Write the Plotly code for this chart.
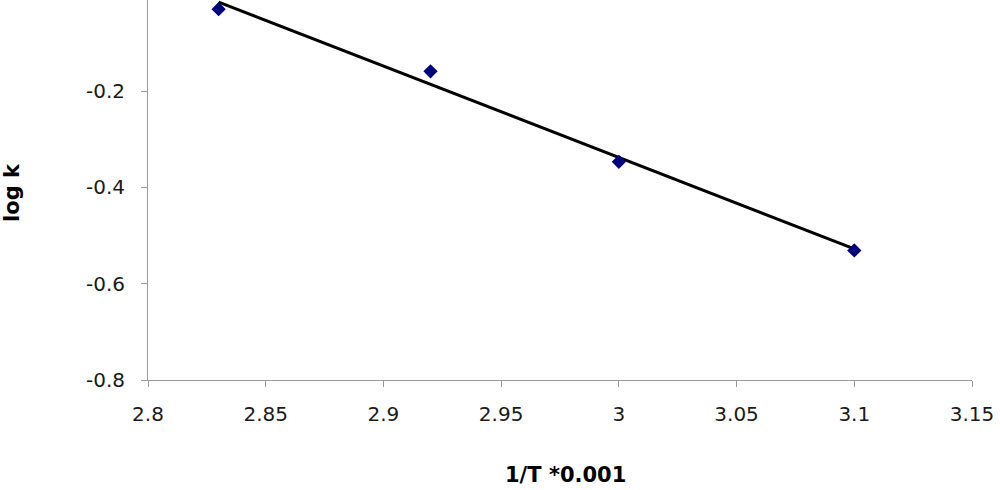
import numpy as np
import plotly.graph_objects as go

x_vals = [2.83, 2.92, 3.0, 3.1]
logk = [-0.030, -0.159, -0.347, -0.531]
x_ticks = [2.8, 2.85, 2.9, 2.95, 3.0, 3.05, 3.1, 3.15]
x_tick_text = ["2.8", "2.85", "2.9", "2.95", "3", "3.05", "3.1", "3.15"]
y_ticks = [-0.8, -0.6, -0.4, -0.2]
y_tick_text = ["-0.8", "-0.6", "-0.4", "-0.2"]

slope, intercept = np.polyfit(x_vals, logk, 1)
fit_x = [min(x_vals), max(x_vals)]
fit_y = [slope * v + intercept for v in fit_x]

W, H = 1000, 490
L, R, T, B = 148, 28, 0, 110
FAM = "DejaVu Sans, Liberation Sans, Arial, sans-serif"

fig = go.Figure()
fig.add_trace(go.Scatter(x=fit_x, y=fit_y, mode="lines", cliponaxis=False,
                         line=dict(color="black", width=3), showlegend=False))
fig.add_trace(go.Scatter(x=x_vals, y=logk, mode="markers", cliponaxis=False,
                         marker=dict(symbol="diamond", size=11, color="#00007f"),
                         showlegend=False))

def px_to_paper(px, py):
    return (px - L) / (W - L - R), ((H - py) - B) / (H - T - B)

xt_x, xt_y = px_to_paper(565, 488)
yt_x, yt_y = px_to_paper(12, 193)

fig.update_layout(
    width=W, height=H,
    margin=dict(l=L, r=R, t=T, b=B),
    paper_bgcolor="white", plot_bgcolor="white",
    font=dict(family=FAM, size=20, color="#1a1a1a"),
    xaxis=dict(range=[2.8, 3.15], tickvals=x_ticks, ticktext=x_tick_text,
               showgrid=False, zeroline=False, showline=True, linecolor="#999999",
               linewidth=1, ticks="outside", ticklen=6, tickcolor="#999999",
               ticklabelstandoff=10),
    yaxis=dict(range=[-0.8, -0.011], tickvals=y_ticks, ticktext=y_tick_text,
               showgrid=False, zeroline=False, showline=True, linecolor="#999999",
               linewidth=1, ticks="outside", ticklen=6, tickcolor="#999999",
               ticklabelstandoff=12),
    annotations=[
        dict(text="<b>1/T *0.001</b>", x=xt_x, y=xt_y, xref="paper", yref="paper",
             xanchor="center", yanchor="bottom", showarrow=False, borderpad=0,
             font=dict(size=21, color="black", family=FAM)),
        dict(text="<b>log k</b>", x=yt_x, y=yt_y, xref="paper", yref="paper",
             xanchor="center", yanchor="middle", textangle=-90, showarrow=False,
             font=dict(size=21, color="black", family=FAM)),
    ],
)

fig.write_html("out.html", config={"displayModeBar": False},
               post_script="document.body.style.margin='0';document.body.style.overflow='hidden';")
